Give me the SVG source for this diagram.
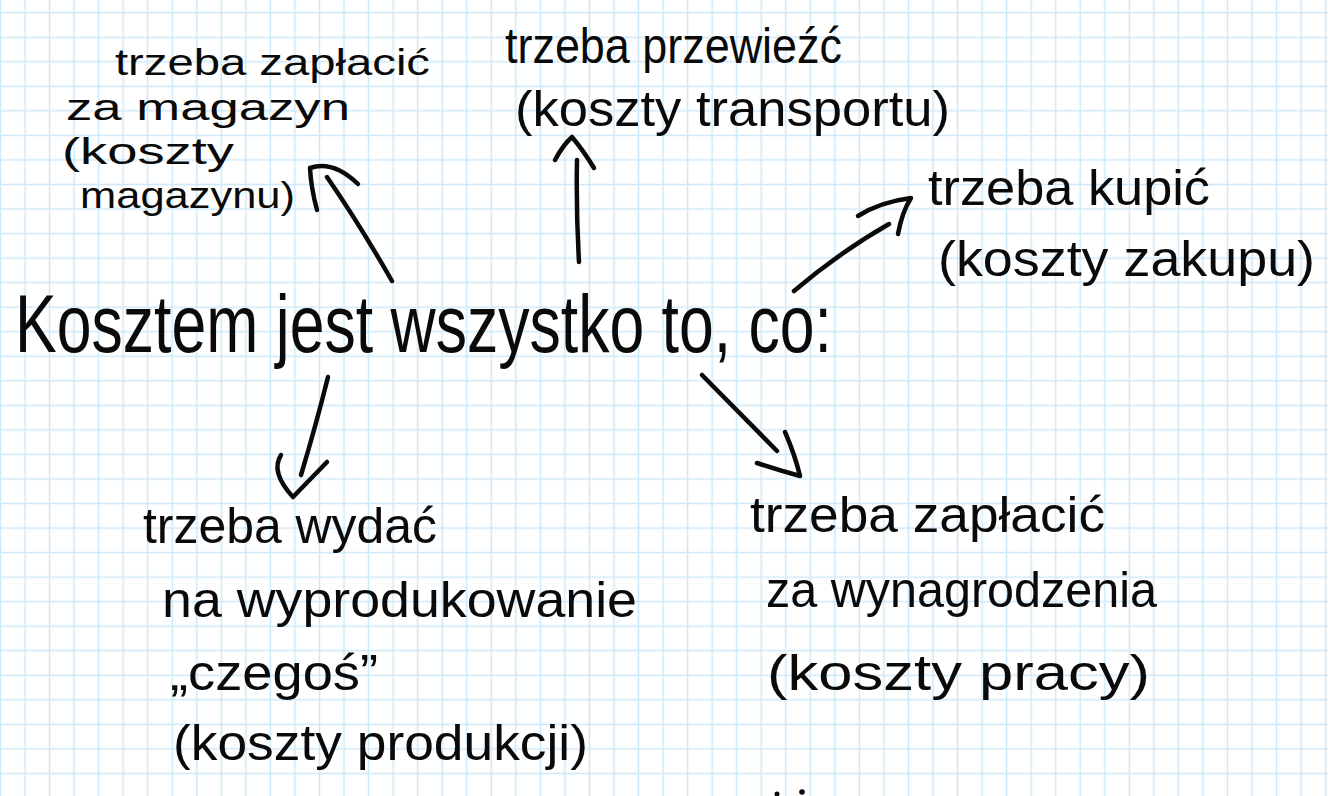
<svg xmlns="http://www.w3.org/2000/svg" width="1328" height="796" viewBox="0 0 1328 796">
<style>
.t{font-family:"Liberation Sans","DejaVu Sans",sans-serif;font-size:50px;fill:#0a0a0a}
.big{font-size:82px}
.sm{font-size:37px}
.c{fill:none;stroke:#0a0a0a;stroke-width:4.5;stroke-linecap:round;stroke-linejoin:round}
</style>
<defs>
<pattern id="grid" x="12.73" y="0.43" width="24.54" height="24.54" patternUnits="userSpaceOnUse">
<path d="M12.27,0V24.54M0,12.27H24.54" stroke="#cde8f9" stroke-width="1.5" fill="none"/>
</pattern>
</defs>
<rect width="1328" height="796" fill="#ffffff"/>
<rect width="1328" height="796" fill="url(#grid)"/>

<g id="center">
<text class="t big" x="15" y="352" textLength="817" lengthAdjust="spacingAndGlyphs">Kosztem jest wszystko to, co:</text>
</g>

<g id="magazyn">
<text class="t sm" x="115" y="75" textLength="315" lengthAdjust="spacingAndGlyphs">trzeba zapłacić</text>
<text class="t sm" x="66" y="120" textLength="284" lengthAdjust="spacingAndGlyphs">za magazyn</text>
<text class="t sm" x="62" y="164" textLength="172" lengthAdjust="spacingAndGlyphs">(koszty</text>
<text class="t sm" x="80" y="208" textLength="215" lengthAdjust="spacingAndGlyphs">magazynu)</text>
</g>

<g id="transport">
<text class="t" x="505" y="63" textLength="337" lengthAdjust="spacingAndGlyphs">trzeba przewieźć</text>
<text class="t" x="515" y="126" textLength="435" lengthAdjust="spacingAndGlyphs">(koszty transportu)</text>
</g>

<g id="zakup">
<text class="t" x="928" y="205" textLength="282" lengthAdjust="spacingAndGlyphs">trzeba kupić</text>
<text class="t" x="938" y="276" textLength="377" lengthAdjust="spacingAndGlyphs">(koszty zakupu)</text>
</g>

<g id="produkcja">
<text class="t" x="143" y="543" textLength="294" lengthAdjust="spacingAndGlyphs">trzeba wydać</text>
<text class="t" x="162" y="617" textLength="475" lengthAdjust="spacingAndGlyphs">na wyprodukowanie</text>
<text class="t" x="170" y="690" textLength="208" lengthAdjust="spacingAndGlyphs">„czegoś”</text>
<text class="t" x="173" y="760" textLength="415" lengthAdjust="spacingAndGlyphs">(koszty produkcji)</text>
</g>

<g id="praca">
<text class="t" x="750" y="532" textLength="355" lengthAdjust="spacingAndGlyphs">trzeba zapłacić</text>
<text class="t" x="766" y="607" textLength="391" lengthAdjust="spacingAndGlyphs">za wynagrodzenia</text>
<text class="t" x="767" y="690" textLength="383" lengthAdjust="spacingAndGlyphs">(koszty pracy)</text>
</g>

<g id="connectors">
<path class="c" d="M392,281 Q360,225 327,177"/>
<path class="c" d="M317,210 Q311,188 310,168 Q333,160 358,184"/>
<path class="c" d="M579,262 Q576,210 577,160"/>
<path class="c" d="M555,160 Q563,145 572,137 Q583,150 594,168"/>
<path class="c" d="M794,291 Q840,252 889,224"/>
<path class="c" d="M858,216 Q880,202 911,198 Q902,212 898,234"/>
<path class="c" d="M328,377 Q316,425 301,475"/>
<path class="c" d="M281,455 Q270,472 293,497 L327,462"/>
<path class="c" d="M702,375 L777,451"/>
<path class="c" d="M785,432 Q795,455 800,476 Q778,470 757,463"/>
</g>

<g id="marks">
<circle cx="777" cy="794" r="2.5" fill="#0a0a0a"/>
<circle cx="802" cy="792" r="2.8" fill="#0a0a0a"/>
</g>
</svg>
